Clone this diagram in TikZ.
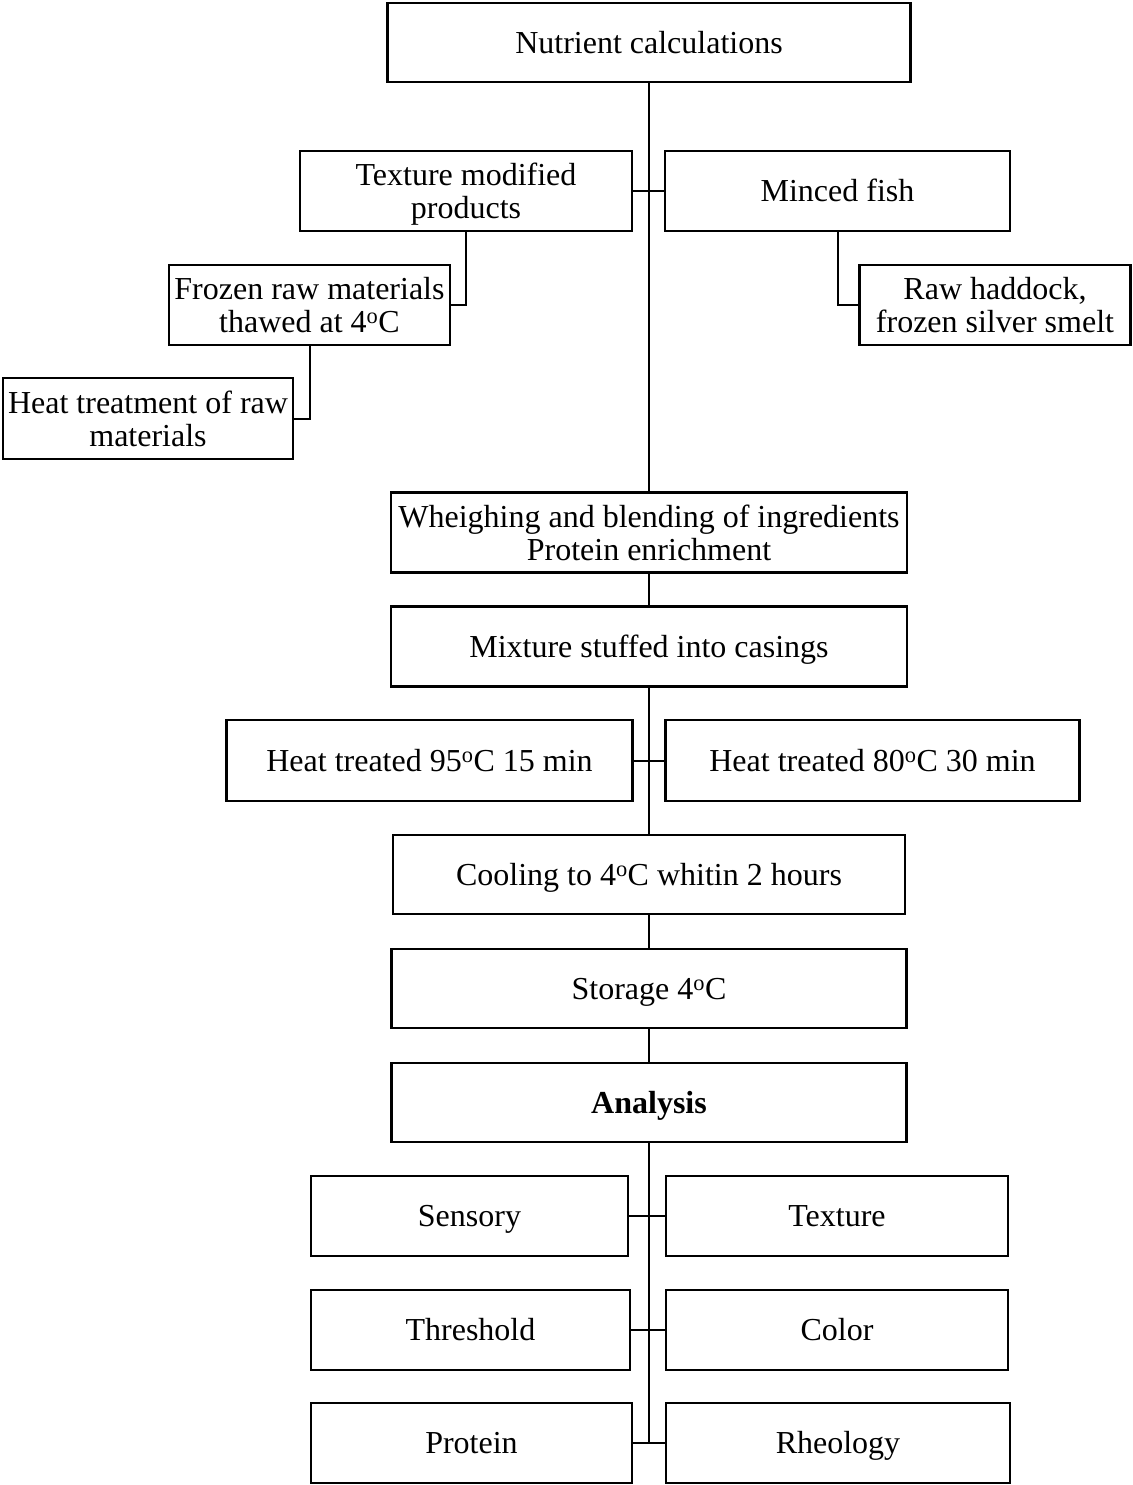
\documentclass[tikz,border=0pt]{standalone}
\usepackage{fontspec}
\setmainfont{Liberation Serif}
\begin{document}
\begin{tikzpicture}[x=1pt,y=-1pt,
  bx/.style={draw, line width=2.2pt, inner sep=0pt, align=center, text depth=0pt, font=\fontsize{32}{33}\selectfont},
  one/.style={bx, text height=21.5pt},
  ln/.style={line width=2pt}]
\useasboundingbox (0,0) rectangle (1132,1485);
\node[one, minimum width=523pt, minimum height=79pt] (nut) at (649,42.5) {Nutrient calculations};
\node[bx, minimum width=332pt, minimum height=80pt] (tex) at (466,191) {Texture modified\\products};
\node[one, minimum width=345pt, minimum height=80pt] (min) at (837.5,191) {Minced fish};
\node[bx, minimum width=281pt, minimum height=80pt] (fro) at (309.5,305) {Frozen raw materials\\thawed at 4\textsuperscript{o}C};
\node[bx, minimum width=271pt, minimum height=80pt] (raw) at (995,305) {Raw haddock,\\frozen silver smelt};
\node[bx, minimum width=290pt, minimum height=81pt] (hea) at (148,418.5) {Heat treatment of raw\\materials};
\node[bx, minimum width=516pt, minimum height=80pt] (whe) at (649,532.5) {Wheighing and blending of ingredients\\Protein enrichment};
\node[one, minimum width=516pt, minimum height=80pt] (mix) at (649,646.5) {Mixture stuffed into casings};
\node[one, minimum width=406pt, minimum height=81pt] (h95) at (429.5,760.5) {Heat treated 95\textsuperscript{o}C 15 min};
\node[one, minimum width=414pt, minimum height=81pt] (h80) at (872.5,760.5) {Heat treated 80\textsuperscript{o}C 30 min};
\node[one, minimum width=512pt, minimum height=79pt] (coo) at (649,874.5) {Cooling to 4\textsuperscript{o}C whitin 2 hours};
\node[one, minimum width=515pt, minimum height=79pt] (sto) at (649,988.5) {Storage 4\textsuperscript{o}C};
\node[one, minimum width=515pt, minimum height=79pt] (ana) at (649,1102.5) {\textbf{Analysis}};
\node[one, minimum width=317pt, minimum height=80pt] (sen) at (469.5,1216) {Sensory};
\node[one, minimum width=342pt, minimum height=80pt] (txt) at (837,1216) {Texture};
\node[one, minimum width=319pt, minimum height=80pt] (thr) at (470.5,1330) {Threshold};
\node[one, minimum width=342pt, minimum height=80pt] (col) at (837,1330) {Color};
\node[one, minimum width=321pt, minimum height=80pt] (pro) at (471.5,1443) {Protein};
\node[one, minimum width=344pt, minimum height=80pt] (rhe) at (838,1443) {Rheology};
% connectors
\draw[ln] (nut.south) -- (whe.north);
\draw[ln] (tex.east) -- (min.west);
\draw[ln] (tex.south) |- (fro.east);
\draw[ln] (fro.south) |- (hea.east);
\draw[ln] (min.south) |- (raw.west);
\draw[ln] (whe.south) -- (mix.north);
\draw[ln] (mix.south) -- (coo.north);
\draw[ln] (h95.east) -- (h80.west);
\draw[ln] (coo.south) -- (sto.north);
\draw[ln] (sto.south) -- (ana.north);
\draw[ln] (ana.south) -- (ana.south |- pro.east);
\draw[ln] (sen.east) -- (txt.west);
\draw[ln] (thr.east) -- (col.west);
\draw[ln] (pro.east) -- (rhe.west);
\end{tikzpicture}
\end{document}
